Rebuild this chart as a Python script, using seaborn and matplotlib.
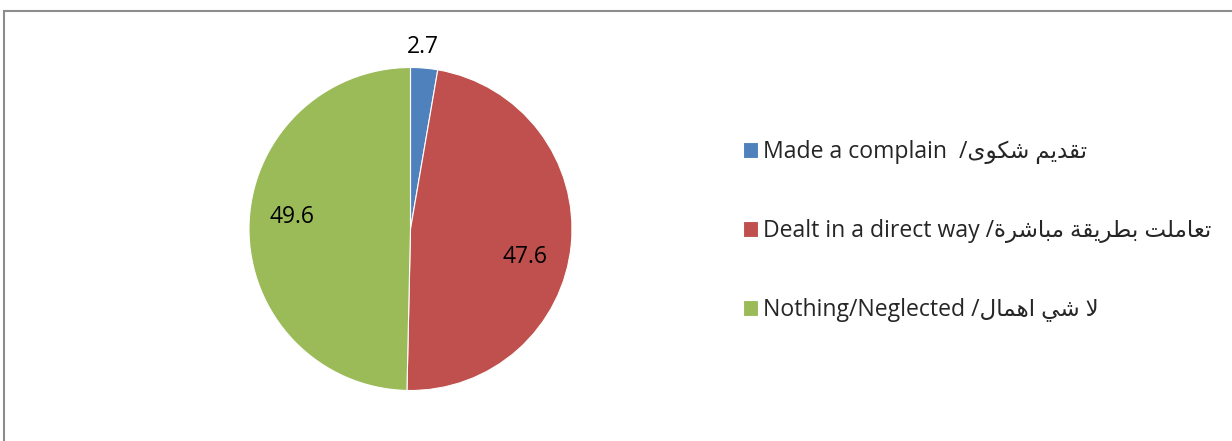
import matplotlib
matplotlib.use("Agg")
import matplotlib.pyplot as plt
import seaborn as sns
import numpy as np
from matplotlib.patches import Rectangle

# data
labels_en = ["Made a complain ", "Dealt in a direct way", "Nothing/Neglected"]
labels_ar = ["تقديم شكوى", "تعاملت بطريقة مباشرة", "لا شي اهمال"]
values = [2.7, 47.6, 49.6]
colors = ["#4F81BD", "#C0504D", "#9BBB59"]

# arabic presentation forms: isolated, final, initial, medial
FORMS = {
    "ا": ("\uFE8D", "\uFE8E", None, None),
    "ب": ("\uFE8F", "\uFE90", "\uFE91", "\uFE92"),
    "ة": ("\uFE93", "\uFE94", None, None),
    "ت": ("\uFE95", "\uFE96", "\uFE97", "\uFE98"),
    "د": ("\uFEA9", "\uFEAA", None, None),
    "ر": ("\uFEAD", "\uFEAE", None, None),
    "ش": ("\uFEB5", "\uFEB6", "\uFEB7", "\uFEB8"),
    "ط": ("\uFEC1", "\uFEC2", "\uFEC3", "\uFEC4"),
    "ع": ("\uFEC9", "\uFECA", "\uFECB", "\uFECC"),
    "ق": ("\uFED5", "\uFED6", "\uFED7", "\uFED8"),
    "ك": ("\uFED9", "\uFEDA", "\uFEDB", "\uFEDC"),
    "ل": ("\uFEDD", "\uFEDE", "\uFEDF", "\uFEE0"),
    "م": ("\uFEE1", "\uFEE2", "\uFEE3", "\uFEE4"),
    "ه": ("\uFEE9", "\uFEEA", "\uFEEB", "\uFEEC"),
    "و": ("\uFEED", "\uFEEE", None, None),
    "ى": ("\uFEEF", "\uFEF0", None, None),
    "ي": ("\uFEF1", "\uFEF2", "\uFEF3", "\uFEF4"),
    "لا": ("\uFEFB", "\uFEFC", None, None),
}


def shape(text):
    # join letters and put them in visual (left-to-right) order
    toks = []
    i = 0
    while i < len(text):
        if text[i:i + 2] == "لا":
            toks.append("لا")
            i += 2
        else:
            toks.append(text[i])
            i += 1
    out = []
    for k, t in enumerate(toks):
        if t not in FORMS:
            out.append(t)
            continue
        prev = k > 0 and toks[k - 1] in FORMS and FORMS[toks[k - 1]][2] is not None
        nxt = (FORMS[t][2] is not None and k + 1 < len(toks) and toks[k + 1] in FORMS)
        if prev and nxt:
            out.append(FORMS[t][3])
        elif prev:
            out.append(FORMS[t][1])
        elif nxt:
            out.append(FORMS[t][2])
        else:
            out.append(FORMS[t][0])
    return "".join(out)[::-1]


sns.set_theme(style="white")
plt.rcParams["font.family"] = ["Open Sans", "DejaVu Sans"]

W, H = 1232, 441
fig = plt.figure(figsize=(W / 100, H / 100), dpi=100)

# chart border (cut by the image edge on the right and bottom)
fig.add_artist(Rectangle((4 / W, -0.2), 1.2, 1.2 - 11 / H, transform=fig.transFigure,
                         fill=False, edgecolor="#8c8c8c", linewidth=1.5, clip_on=False))

cx, cy, r = 410.5, 229, 161.5
ax = fig.add_axes([(cx - r) / W, (H - cy - r) / H, 2 * r / W, 2 * r / H])
palette = sns.color_palette(colors)
wedges, _ = ax.pie(values, colors=palette, startangle=90, counterclock=False,
                   wedgeprops=dict(edgecolor="white", linewidth=0.8))
ax.set_xlim(-1, 1)
ax.set_ylim(-1, 1)
ax.set_aspect("equal")
ax.axis("off")

# data labels (excel-style placement)
label_pos = [(1.13, 1.0), (0.73, -8.3), (0.74, -5.0)]
for w, v, (rad, off) in zip(wedges, values, label_pos):
    ang = np.deg2rad((w.theta1 + w.theta2) / 2 + off)
    ax.text(rad * np.cos(ang), rad * np.sin(ang), f"{v:.1f}", ha="center", va="center",
            fontsize=16.5, color="black", clip_on=False)

leg_labels = [f"{en} /{shape(ar)}" for en, ar in zip(labels_en, labels_ar)]
fig.legend(wedges, leg_labels, loc="center left", bbox_to_anchor=(722 / W, 1 - 231 / H),
           frameon=False, fontsize=16.6, handlelength=0.68, handleheight=0.68,
           handletextpad=0.2, labelspacing=2.4)

fig.savefig("out.png", dpi=100)
plt.close(fig)
